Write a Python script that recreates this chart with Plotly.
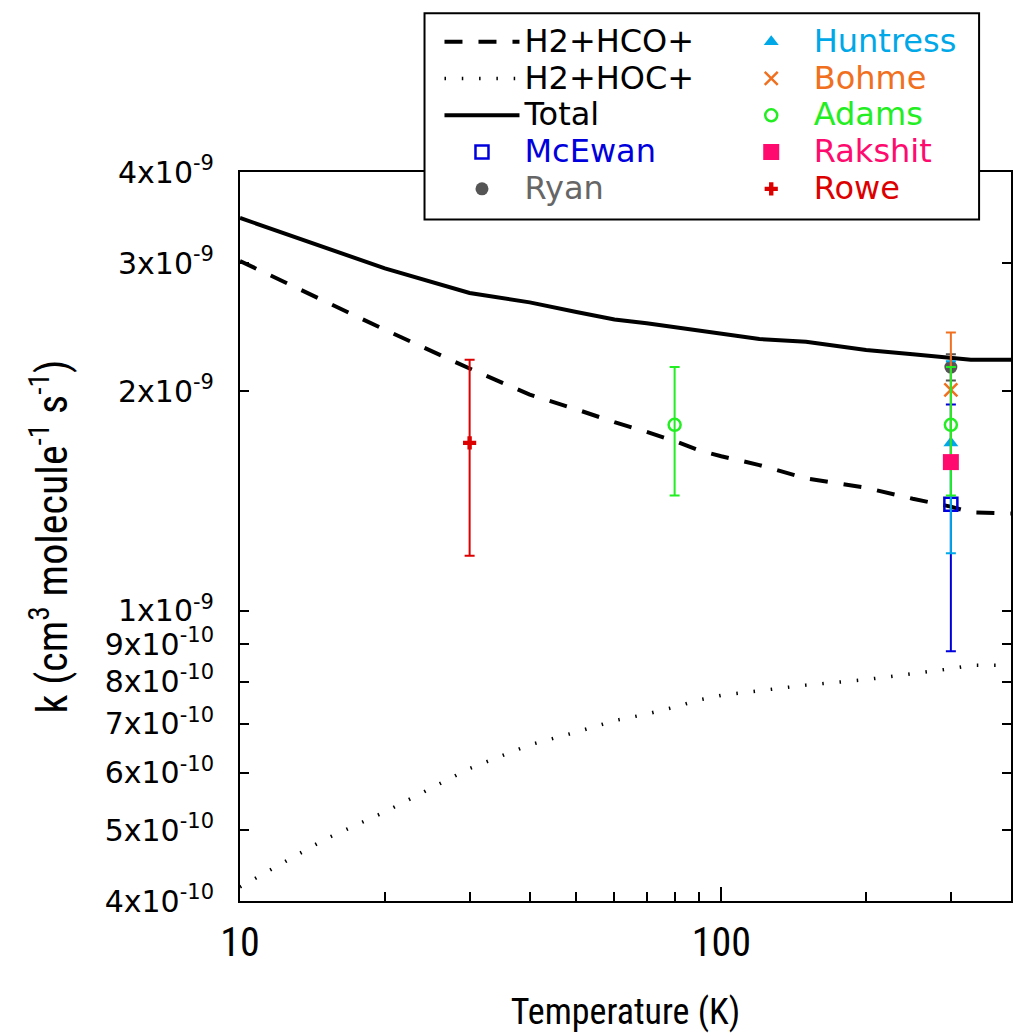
import numpy as np
import plotly.graph_objects as go

# ---------------- data ----------------
temps = [10, 15, 20, 30, 40, 50, 60, 70, 80, 90, 100, 120, 150, 200, 250, 300, 330, 400]
k_hco = [3.02e-9, 2.66e-9, 2.43e-9, 2.15e-9, 1.98e-9, 1.89e-9, 1.815e-9, 1.76e-9, 1.71e-9,
         1.66e-9, 1.63e-9, 1.585e-9, 1.52e-9, 1.475e-9, 1.425e-9, 1.39e-9, 1.365e-9, 1.36e-9]
k_hoc = [0.418e-9, 0.486e-9, 0.530e-9, 0.608e-9, 0.655e-9, 0.682e-9, 0.707e-9, 0.722e-9, 0.738e-9,
         0.755e-9, 0.766e-9, 0.778e-9, 0.791e-9, 0.805e-9, 0.820e-9, 0.833e-9, 0.842e-9, 0.842e-9]
k_total = [3.46e-9, 3.15e-9, 2.95e-9, 2.73e-9, 2.65e-9, 2.57e-9, 2.51e-9, 2.48e-9, 2.45e-9,
           2.42e-9, 2.40e-9, 2.36e-9, 2.34e-9, 2.28e-9, 2.25e-9, 2.22e-9, 2.21e-9, 2.21e-9]

line_names = ["H2+HCO+", "H2+HOC+", "Total"]

exp_names = ["McEwan", "Ryan", "Huntress", "Bohme", "Adams", "Rakshit", "Rowe"]
exp_T = [[300], [300], [300], [300], [80, 300], [300], [30]]
exp_k = [[1.40e-9], [2.16e-9], [1.70e-9], [2.01e-9], [1.80e-9, 1.80e-9], [1.60e-9], [1.70e-9]]
exp_err = [[0.52e-9], [0.09e-9], [0.50e-9], [0.40e-9], [0.36e-9, 0.36e-9], None, [0.51e-9]]

exp_colors = ["#0000DD", "#555555", "#00A8E8", "#F07020", "#22EE22", "#FF0A6E", "#DD0000"]
text_colors = ["#0000DD", "#666666", "#00A8E8", "#F07020", "#22EE22", "#FF0A6E", "#DD0000"]
exp_symbols = ["square-open", "circle", "triangle-up", "x-thin-open", "circle-open", "square", "cross"]
exp_sizes = [13, 13, 13, 13, 12, 16, 11]
exp_legend = ["legend", "legend", "legend2", "legend2", "legend2", "legend2", "legend2"]

y_tickvals = [4e-10, 5e-10, 6e-10, 7e-10, 8e-10, 9e-10, 1e-9, 2e-9, 3e-9, 4e-9]
y_ticktext = ["4x10<sup>-10</sup>", "5x10<sup>-10</sup>", "6x10<sup>-10</sup>", "7x10<sup>-10</sup>",
              "8x10<sup>-10</sup>", "9x10<sup>-10</sup>", "1x10<sup>-9</sup>", "2x10<sup>-9</sup>",
              "3x10<sup>-9</sup>", "4x10<sup>-9</sup>"]
x_tickvals = [10, 100]
x_ticktext = ["10", "100"]
x_minor = [20, 30, 40, 50, 60, 70, 80, 90, 200, 300]

LEG_FONT = "DejaVu Sans"
NARROW = "Liberation Sans Narrow, Roboto Condensed, DejaVu Sans Condensed, Liberation Sans, Arial"

def leg_text(txt, color):
    return '<span style="font-size:32px;color:%s">%s</span>' % (color, txt)

fig = go.Figure()

fig.add_trace(go.Scatter(x=temps, y=k_hco, mode="lines", name=leg_text(line_names[0], "black"),
                         line=dict(color="black", width=4, dash="18px,16px"), legend="legend"))
fig.add_trace(go.Scatter(x=temps, y=k_hoc, mode="lines", name=leg_text(line_names[1], "black"),
                         line=dict(color="black", width=3.5, dash="1.5px,15.8px"), legend="legend"))
fig.add_trace(go.Scatter(x=temps, y=k_total, mode="lines", name=leg_text(line_names[2], "black"),
                         line=dict(color="black", width=4), legend="legend"))

for i, nm in enumerate(exp_names):
    err = None
    if exp_err[i] is not None:
        err = dict(type="data", array=exp_err[i], visible=True, color=exp_colors[i],
                   thickness=2, width=5)
    open_sym = exp_symbols[i].endswith("open")
    marker = dict(symbol=exp_symbols[i], size=exp_sizes[i], color=exp_colors[i],
                  line=dict(width=2.5 if open_sym else 0, color=exp_colors[i]))
    fig.add_trace(go.Scatter(x=exp_T[i], y=exp_k[i], mode="markers",
                             name=leg_text(nm, text_colors[i]),
                             marker=marker, error_y=err, legend=exp_legend[i]))

W, H = 1013, 1033
L, R, T, B = 240, 0, 172, 126
pw, ph = W - L - R, H - T - B

def px(xp):
    return (xp - L) / pw

def py(yp):
    return (H - B - yp) / ph

fig.add_shape(type="rect", xref="paper", yref="paper",
              x0=px(425), x1=px(981), y0=py(220), y1=py(12),
              line=dict(color="black", width=2), fillcolor="white", layer="above")

fig.update_layout(
    width=W, height=H,
    margin=dict(l=L, r=R, t=T, b=B, pad=0),
    paper_bgcolor="white", plot_bgcolor="white",
    font=dict(family="Liberation Sans, Arial", color="black"),
    showlegend=True,
    legend=dict(x=px(440), y=py(17), xanchor="left", yanchor="top",
                bgcolor="rgba(0,0,0,0)", borderwidth=0, itemwidth=75,
                font=dict(family=LEG_FONT, size=26, color="black"),
                tracegroupgap=0, traceorder="normal"),
    legend2=dict(x=px(730), y=py(17), xanchor="left", yanchor="top",
                 bgcolor="rgba(0,0,0,0)", borderwidth=0, itemwidth=75,
                 font=dict(family=LEG_FONT, size=26, color="black"),
                 tracegroupgap=0, traceorder="normal"),
    xaxis=dict(type="log", range=[1, np.log10(400)], showgrid=False, zeroline=False,
               showline=True, linecolor="black", linewidth=2, mirror=True,
               ticks="inside", tickvals=x_tickvals, ticktext=x_ticktext, ticklen=14,
               tickwidth=2, tickcolor="black", ticklabelstandoff=5,
               tickfont=dict(family=NARROW, size=40, color="black"),
               minor=dict(tickmode="array", tickvals=x_minor, ticks="inside", ticklen=9,
                          tickwidth=1.5, tickcolor="black", showgrid=False),
               title=dict(text="Temperature (K)", standoff=42,
                          font=dict(family=NARROW, size=36, color="black"))),
    yaxis=dict(type="log", range=[np.log10(4e-10), np.log10(4e-9)], showgrid=False,
               zeroline=False, showline=True, linecolor="black", linewidth=2, mirror="ticks",
               ticks="inside", tickvals=y_tickvals, ticktext=y_ticktext, ticklen=9,
               tickwidth=1.5, tickcolor="black", ticklabelstandoff=18,
               tickfont=dict(family=LEG_FONT, size=30, color="black"),
               title=dict(text="k (cm<sup>3</sup> molecule<sup>-1</sup> s<sup>-1</sup>)", standoff=24,
                          font=dict(family=NARROW, size=42, color="black"))),
)

fig.write_html("out.html")
